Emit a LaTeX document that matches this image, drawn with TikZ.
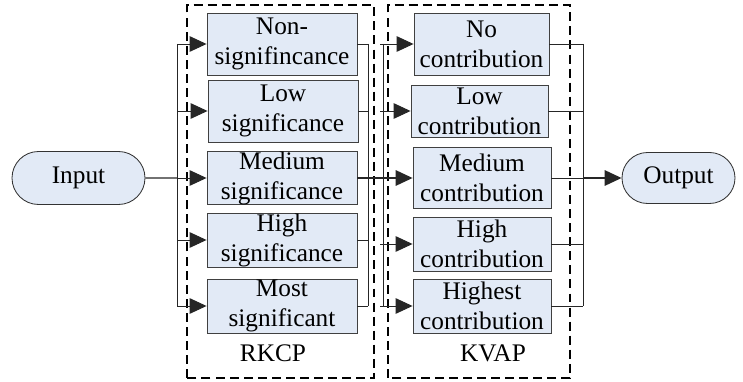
\documentclass[tikz,border=0pt]{standalone}
\usepackage{fontspec}
\setmainfont{Liberation Serif}
\usepackage{tikz}
\usetikzlibrary{arrows.meta, shapes.misc}
\definecolor{boxblue}{RGB}{226,234,246}

\tikzset{
  stage/.style={draw=black!75, fill=boxblue, line width=0.6pt, align=center,
    inner sep=0pt, font=\fontsize{18}{21.3}\selectfont},
  term/.style={rounded rectangle, draw=black!80, fill=boxblue, line width=0.6pt,
    inner sep=0pt, font=\fontsize{18}{21.3}\selectfont},
  arr/.style={-{Triangle[length=12pt,width=11pt]}},
  group/.style={line width=1.4pt, dash pattern=on 6.4pt off 3.6pt},
  wire/.style={line width=0.7pt, draw=black!85},
}

\begin{document}
\begin{tikzpicture}
\useasboundingbox (0,0) rectangle (18.575,9.55);

% dashed groups
\draw[group] (4.675,0.1) rectangle (9.35,9.425);
\draw[group] (9.7,0.1) rectangle (14.25,9.425);
\node[font=\fontsize{18}{21.3}\selectfont] (rkcp) at (6.825,0.725) {RKCP};
\node[font=\fontsize{18}{21.3}\selectfont] (kvap) at (12.325,0.725) {KVAP};

% terminals
\node[term, minimum width=3.325cm, minimum height=1.325cm] (in) at (1.9625,5.1) {Input};
\node[term, minimum width=2.825cm, minimum height=1.275cm] (out) at (16.9625,5.1) {Output};

% RKCP stages
\node[stage, minimum width=3.75cm, minimum height=1.55cm] (r1) at (7.05,8.45) {Non-\\signifincance};
\node[stage, minimum width=3.75cm, minimum height=1.55cm] (r2) at (7.075,6.775) {Low\\significance};
\node[stage, minimum width=3.75cm, minimum height=1.325cm] (r3) at (7.05,5.1) {Medium\\significance};
\node[stage, minimum width=3.75cm, minimum height=1.35cm] (r4) at (7.05,3.55) {High\\significance};
\node[stage, minimum width=3.75cm, minimum height=1.35cm] (r5) at (7.05,1.9) {Most\\significant};

% KVAP stages
\node[stage, minimum width=3.375cm, minimum height=1.55cm] (k1) at (12.0375,8.45) {No\\contribution};
\node[stage, minimum width=3.425cm, minimum height=1.3cm] (k2) at (11.9875,6.775) {Low\\contribution};
\node[stage, minimum width=3.45cm, minimum height=1.525cm] (k3) at (12.05,5.1) {Medium\\contribution};
\node[stage, minimum width=3.45cm, minimum height=1.35cm] (k4) at (12.05,3.45) {High\\contribution};
\node[stage, minimum width=3.45cm, minimum height=1.35cm] (k5) at (12.05,1.9) {Highest\\contribution};

% bus positions
\coordinate (lb) at (4.425,5.1);
\coordinate (rb) at (9.2,5.1);
\coordinate (kl) at (9.575,5.1);
\coordinate (kr) at (14.575,5.1);

% input side
\draw[wire, line width=1pt] (in) -- (lb);
\draw[wire] (r1.west -| lb) -- (r5.west -| lb);
\foreach \i in {1,...,5}
  \draw[wire, arr] (r\i.west -| lb) -- (r\i.west);

% between groups
\foreach \i in {1,2,4,5}
  \draw[wire] (r\i.east) -- (r\i.east -| rb);
\draw[wire] (r1.east -| rb) -- (r5.east -| rb);
\draw[wire] (k1.west -| kl) -- (k5.west -| kl);
\foreach \i in {1,2,4,5}
  \draw[wire, arr] ([xshift=-2pt]k\i.west -| kl) -- (k\i.west);
\draw[wire, line width=1pt, arr] (r3.east) -- (k3.west);

% output side
\foreach \i in {1,...,5}
  \draw[wire] (k\i.east) -- (k\i.east -| kr);
\draw[wire] (k1.east -| kr) -- (k5.east -| kr);
\draw[wire, line width=1pt, arr] (kr) -- (out);
\end{tikzpicture}
\end{document}
